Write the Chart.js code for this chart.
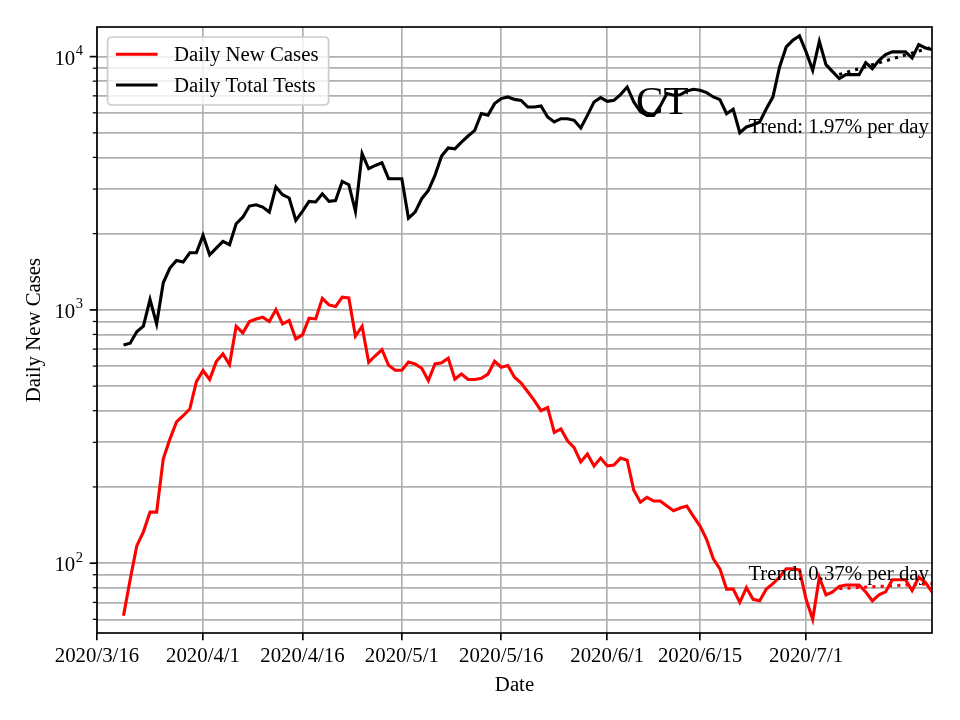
<!DOCTYPE html>
<html>
<head>
<meta charset="utf-8">
<script src="https://cdn.jsdelivr.net/npm/chart.js@4.4.1/dist/chart.umd.min.js"></script>
<style>
  html, body { margin: 0; padding: 0; background: #fff; }
  canvas { display: block; }
</style>
</head>
<body>
<canvas id="chart" width="960" height="720"></canvas>
<script>
// x axis counts days from 2020/3/16, data begins on 2020/3/20
const firstDataDay = 4;
const lastAxisDay = 126;

const newCases = [
  62, 86, 117, 133, 159, 159, 258, 309, 361, 382,
  406, 521, 576, 531, 625, 670, 608, 862, 811, 899,
  921, 935, 899, 1002, 881, 908, 768, 797, 927, 921,
  1111, 1046, 1031, 1122, 1115, 787, 862, 621, 659, 697,
  604, 578, 578, 622, 612, 588, 526, 612, 618, 645,
  533, 558, 531, 531, 537, 558, 627, 594, 603, 542,
  514, 475, 438, 400, 412, 328, 339, 304, 286, 251,
  270, 242, 260, 242, 244, 260, 255, 194, 174, 182,
  176, 176, 168, 161, 165, 168, 153, 140, 124, 104,
  95, 79, 79, 70, 80, 72, 71, 79, 83, 88,
  95, 95, 94, 72, 60, 88, 75, 77, 81, 82,
  82, 82, 77, 71, 75, 77, 86, 86, 86, 78,
  88, 84, 77
];

const totalTests = [
  727, 739, 820, 862, 1099, 881, 1280, 1463, 1567, 1545,
  1681, 1681, 1968, 1650, 1754, 1863, 1808, 2189, 2323, 2570,
  2600, 2546, 2433, 3055, 2851, 2766, 2256, 2449, 2682, 2667,
  2873, 2682, 2703, 3216, 3120, 2449, 4140, 3608, 3718, 3810,
  3296, 3296, 3296, 2301, 2432, 2748, 2964, 3398, 4054, 4359,
  4327, 4598, 4860, 5117, 5960, 5868, 6523, 6827, 6930, 6779,
  6717, 6323, 6323, 6380, 5778, 5520, 5688, 5688, 5602, 5224,
  5862, 6621, 6888, 6659, 6717, 7083, 7587, 6622, 6063, 5862,
  5862, 6385, 7148, 7035, 7067, 7311, 7429, 7364, 7208, 6929,
  6765, 5953, 6194, 5010, 5275, 5386, 5521, 6226, 6936, 9100,
  10920, 11600, 12070, 10440, 8830, 11490, 9300, 8720, 8186, 8489,
  8489, 8489, 9469, 8966, 9669, 10180, 10440, 10440, 10440, 9882,
  11150, 10820, 10660
];

// dotted trend lines: start and end of the fit
const trendDays = [112, 126];
const casesTrend = [79.4, 83.0];
const testsTrend = [8500, 10900];
const trendLabels = ["Trend: 1.97% per day", "Trend: 0.37% per day"];

const xTickDays = [0, 16, 31, 46, 61, 77, 91, 107];
const xTickLabels = ["2020/3/16", "2020/4/1", "2020/4/16", "2020/5/1",
  "2020/5/16", "2020/6/1", "2020/6/15", "2020/7/1"];

const yMajorTicks = [100, 1000, 10000];
const yMinorTicks = [60, 70, 80, 90, 200, 300, 400, 500, 600, 700, 800, 900,
  2000, 3000, 4000, 5000, 6000, 7000, 8000, 9000];

const serif = "'Liberation Serif', 'Times New Roman', serif";
const fs = 20.8;

function toPoints(values) {
  return values.map((v, i) => ({ x: firstDataDay + i, y: v }));
}
function trendPoints(values) {
  return values.map((v, i) => ({ x: trendDays[i], y: v }));
}

// spines, y tick marks and labels, annotations, legend
const decor = {
  id: 'decor',
  afterDraw(chart) {
    const { ctx, chartArea: a } = chart;
    const x = chart.scales.x, y = chart.scales.y;
    ctx.save();

    ctx.strokeStyle = '#000';
    ctx.lineWidth = 1.67;
    ctx.strokeRect(a.left, a.top, a.right - a.left, a.bottom - a.top);

    // y ticks
    ctx.fillStyle = '#000';
    yMinorTicks.forEach(v => {
      const py = y.getPixelForValue(v);
      ctx.lineWidth = 1.25;
      ctx.beginPath(); ctx.moveTo(a.left, py); ctx.lineTo(a.left - 4.2, py); ctx.stroke();
    });
    yMajorTicks.forEach(v => {
      const py = y.getPixelForValue(v);
      ctx.lineWidth = 1.67;
      ctx.beginPath(); ctx.moveTo(a.left, py); ctx.lineTo(a.left - 7.3, py); ctx.stroke();
      const exp = String(Math.round(Math.log10(v)));
      ctx.font = (fs * 0.7) + 'px ' + serif;
      const supW = ctx.measureText(exp).width;
      const right = a.left - 14;
      ctx.textAlign = 'right';
      ctx.textBaseline = 'alphabetic';
      ctx.fillText(exp, right, py - 1.5);
      ctx.font = fs + 'px ' + serif;
      ctx.fillText('10', right - supW - 0.5, py + 8);
    });

    // axis titles
    ctx.font = fs + 'px ' + serif;
    ctx.textAlign = 'center';
    ctx.fillText('Date', (a.left + a.right) / 2, 691);
    ctx.save();
    ctx.translate(40, (a.top + a.bottom) / 2);
    ctx.rotate(-Math.PI / 2);
    ctx.fillText('Daily New Cases', 0, 0);
    ctx.restore();

    // state name
    ctx.font = '41px ' + serif;
    ctx.textAlign = 'center';
    ctx.fillText('CT', x.getPixelForValue(85.3), y.getPixelForValue(5946));

    // trend labels
    ctx.font = fs + 'px ' + serif;
    ctx.textAlign = 'right';
    ctx.fillText(trendLabels[0], a.right - 3, y.getPixelForValue(4977));
    ctx.fillText(trendLabels[1], a.right - 3, y.getPixelForValue(85.9));

    // legend
    const lx = a.left + 10.6, ly = a.top + 10, lw = 221, lh = 68, r = 4;
    ctx.beginPath();
    ctx.moveTo(lx + r, ly);
    ctx.arcTo(lx + lw, ly, lx + lw, ly + lh, r);
    ctx.arcTo(lx + lw, ly + lh, lx, ly + lh, r);
    ctx.arcTo(lx, ly + lh, lx, ly, r);
    ctx.arcTo(lx, ly, lx + lw, ly, r);
    ctx.closePath();
    ctx.fillStyle = 'rgba(255,255,255,0.8)';
    ctx.fill();
    ctx.strokeStyle = '#cccccc';
    ctx.lineWidth = 1.67;
    ctx.stroke();
    chart.data.datasets.slice(0, 2).forEach((ds, i) => {
      const cy = ly + 17.3 + i * 30.7;
      ctx.strokeStyle = ds.borderColor;
      ctx.lineWidth = 3.1;
      ctx.beginPath(); ctx.moveTo(lx + 8.3, cy); ctx.lineTo(lx + 50, cy); ctx.stroke();
      ctx.fillStyle = '#000';
      ctx.textAlign = 'left';
      ctx.fillText(ds.label, lx + 66.5, cy + 6.5);
    });

    ctx.restore();
  }
};

new Chart(document.getElementById('chart'), {
  type: 'line',
  data: {
    datasets: [
      { label: 'Daily New Cases', data: toPoints(newCases), borderColor: '#ff0000', borderWidth: 3.1 },
      { label: 'Daily Total Tests', data: toPoints(totalTests), borderColor: '#000000', borderWidth: 3.1 },
      { label: 'cases trend', data: trendPoints(casesTrend), borderColor: '#ff0000', borderWidth: 3.1, borderDash: [3.1, 5.2] },
      { label: 'tests trend', data: trendPoints(testsTrend), borderColor: '#000000', borderWidth: 3.1, borderDash: [3.1, 5.2] }
    ]
  },
  options: {
    responsive: false,
    animation: false,
    layout: { padding: { top: 27, right: 28, left: 0, bottom: 0 } },
    elements: { point: { radius: 0 }, line: { tension: 0, borderCapStyle: 'butt', fill: false } },
    scales: {
      x: {
        type: 'linear',
        min: 0,
        max: lastAxisDay,
        afterBuildTicks: s => { s.ticks = xTickDays.map(v => ({ value: v })); },
        afterFit: s => { s.height = 87; },
        border: { display: false },
        grid: { color: '#b0b0b0', lineWidth: 1.67, drawTicks: true, tickLength: 7.3, tickColor: '#000', tickWidth: 1.67 },
        ticks: {
          autoSkip: false, maxRotation: 0, minRotation: 0, padding: 4, color: '#000',
          font: { family: serif, size: fs },
          callback: (v, i) => xTickLabels[i]
        }
      },
      y: {
        type: 'logarithmic',
        min: 53,
        max: 13090,
        afterBuildTicks: s => {
          s.ticks = yMinorTicks.concat(yMajorTicks).sort((p, q) => p - q).map(v => ({ value: v }));
        },
        afterFit: s => { s.width = 97; },
        border: { display: false },
        grid: { color: '#b0b0b0', lineWidth: 1.67, drawTicks: false },
        ticks: { display: false }
      }
    },
    plugins: {
      legend: { display: false },
      tooltip: { enabled: false }
    }
  },
  plugins: [decor]
});
</script>
</body>
</html>
